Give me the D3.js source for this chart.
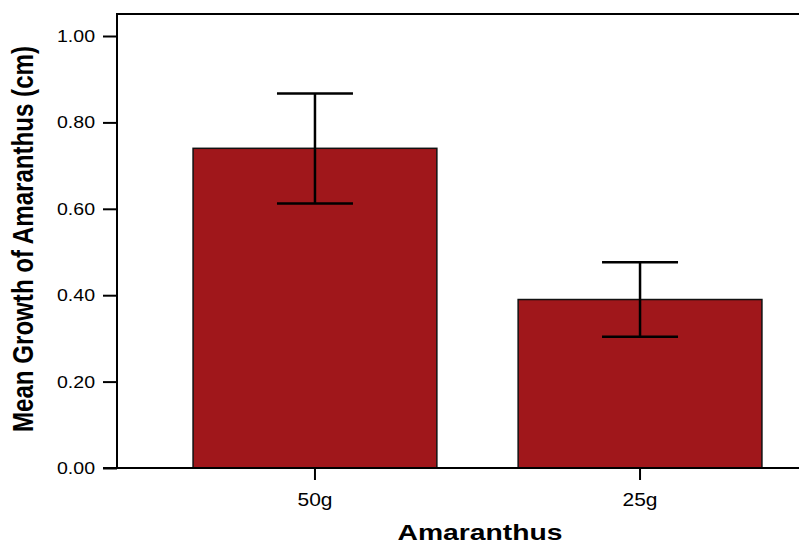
<!DOCTYPE html>
<html>
<head>
<meta charset="utf-8">
<script src="https://cdn.jsdelivr.net/npm/d3@7"></script>
<style>
  body { margin: 0; background: #fff; }
  text { font-family: "Liberation Sans", Arial, sans-serif; }
</style>
</head>
<body>
<svg width="799" height="543"></svg>
<script>
const categories = ["50g", "25g"];
const means = [0.74, 0.39];
const errLow = [0.612, 0.304];
const errHigh = [0.867, 0.476];
const yTicks = [0, 0.2, 0.4, 0.6, 0.8, 1.0];

const svg = d3.select("svg");
const plotLeft = 117, plotTop = 14, plotBottom = 468;

const x = d3.scaleBand()
  .domain(categories)
  .range([plotLeft, 838])
  .paddingInner(0.25)
  .paddingOuter(0.234);

const y = d3.scaleLinear()
  .domain([0, 1])
  .range([plotBottom, 36]);

// frame top
svg.append("line")
  .attr("x1", plotLeft).attr("x2", 799)
  .attr("y1", plotTop).attr("y2", plotTop)
  .attr("stroke", "#000").attr("stroke-width", 2);

// bars
svg.append("g")
  .selectAll("rect")
  .data(categories).enter()
  .append("rect")
  .attr("x", d => x(d))
  .attr("width", x.bandwidth())
  .attr("y", (d, i) => y(means[i]))
  .attr("height", (d, i) => y(0) - y(means[i]))
  .attr("fill", "#a0171b")
  .attr("stroke", "#111")
  .attr("stroke-width", 1.5);

// error bars
const eb = svg.append("g")
  .attr("stroke", "#000")
  .attr("stroke-width", 2.5);
categories.forEach((c, i) => {
  const cx = x(c) + x.bandwidth() / 2;
  eb.append("line").attr("x1", cx).attr("x2", cx)
    .attr("y1", y(errLow[i])).attr("y2", y(errHigh[i]));
  [errLow[i], errHigh[i]].forEach(v => {
    eb.append("line").attr("x1", cx - 38).attr("x2", cx + 38)
      .attr("y1", y(v)).attr("y2", y(v));
  });
});

// y axis
const yAxis = svg.append("g")
  .attr("transform", `translate(${plotLeft},0)`)
  .call(d3.axisLeft(y).tickValues(yTicks).tickFormat(d3.format(".2f")).tickSize(14).tickPadding(8));
yAxis.select(".domain").remove();
yAxis.selectAll(".tick line").attr("stroke-width", 2);
yAxis.selectAll(".tick text").attr("font-size", 17).attr("fill", "#000")
  .attr("textLength", 38).attr("lengthAdjust", "spacingAndGlyphs")
  .style("font-family", "Liberation Sans, Arial, sans-serif");
svg.append("line")
  .attr("x1", plotLeft).attr("x2", plotLeft)
  .attr("y1", plotTop - 1).attr("y2", plotBottom + 1)
  .attr("stroke", "#000").attr("stroke-width", 2);

// x axis
const xAxis = svg.append("g")
  .attr("transform", `translate(0,${plotBottom})`)
  .call(d3.axisBottom(x).tickSize(12).tickPadding(13));
xAxis.select(".domain").remove();
xAxis.selectAll(".tick line").attr("stroke-width", 2);
xAxis.selectAll(".tick text").attr("font-size", 18).attr("fill", "#000")
  .attr("textLength", 35).attr("lengthAdjust", "spacingAndGlyphs")
  .style("font-family", "Liberation Sans, Arial, sans-serif");
svg.append("line")
  .attr("x1", plotLeft - 14).attr("x2", 799)
  .attr("y1", plotBottom).attr("y2", plotBottom)
  .attr("stroke", "#000").attr("stroke-width", 2);

// titles
svg.append("text")
  .attr("x", 480).attr("y", 540)
  .attr("text-anchor", "middle")
  .attr("font-size", 22).attr("font-weight", "bold")
  .attr("textLength", 165).attr("lengthAdjust", "spacingAndGlyphs")
  .text("Amaranthus");

svg.append("text")
  .attr("transform", "translate(33,239) scale(1.3,1) rotate(-90)")
  .attr("text-anchor", "middle")
  .attr("font-size", 23).attr("font-weight", "bold")
  .attr("textLength", 386).attr("lengthAdjust", "spacingAndGlyphs")
  .text("Mean Growth of Amaranthus (cm)");
</script>
</body>
</html>
